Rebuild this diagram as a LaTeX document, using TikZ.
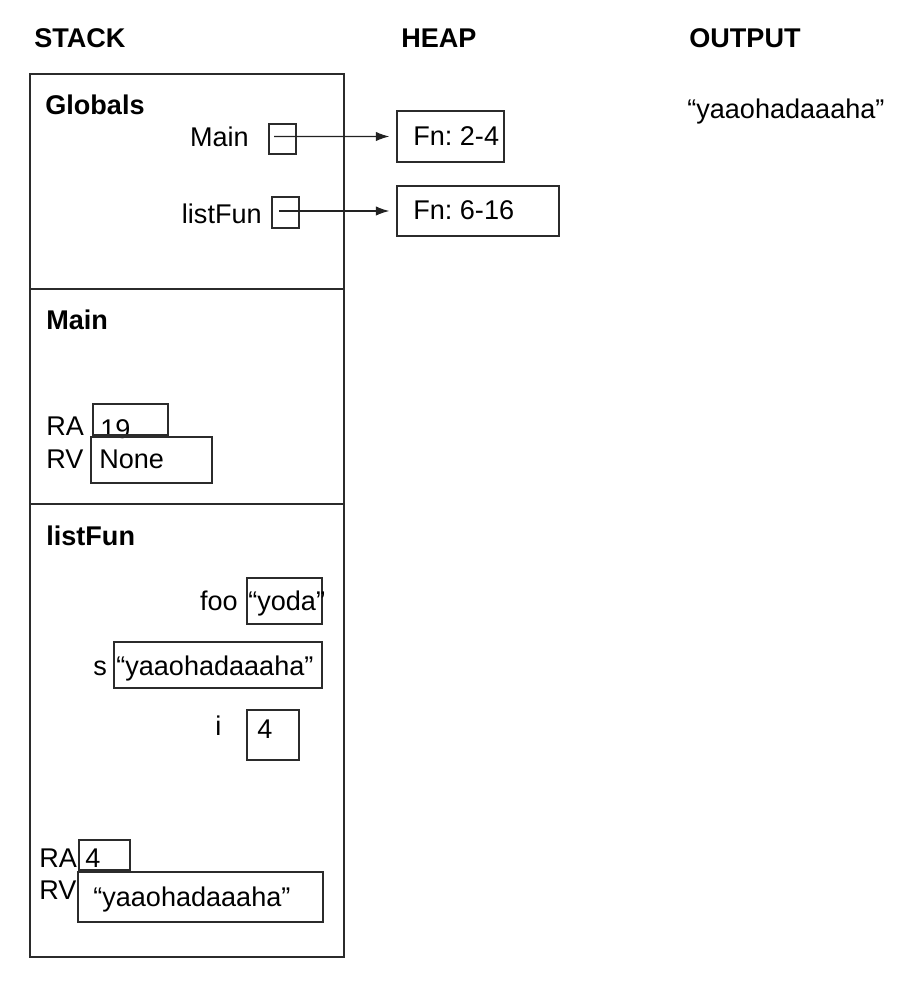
\documentclass[tikz,border=0pt]{standalone}
\usepackage{fontspec}
\setmainfont{Liberation Sans}
\usepackage{xcolor}
\usepackage{tikz}
\usetikzlibrary{arrows.meta, fit, positioning}
\definecolor{Ink}     {HTML}{000000}
\definecolor{Edge}    {HTML}{2B2B2B}
\definecolor{PtrGrey} {HTML}{222222}

\newcommand{\txtsize}{\fontsize{15.4}{18}\selectfont}
\frenchspacing

\begin{document}
\begin{tikzpicture}[x=0.02cm, y=-0.02cm, font=\txtsize,
    frame/.style={draw=Edge, line width=0.9pt, inner sep=0pt},
    cell/.style={draw=Edge, line width=0.85pt, inner sep=0pt},
    lbl/.style={text=Ink, inner sep=0pt},
    hdr/.style={text=Ink, inner sep=0pt, font=\txtsize\bfseries},
    ptr/.style={draw=PtrGrey, line width=0.65pt,
                -{Latex[length=0.27cm, width=0.19cm]}, shorten >=0.14cm}]
  \useasboundingbox (0,0) rectangle (899,989);
  % Column headers
  \node[hdr, anchor=base west] (stackhd) at (34,48) {STACK};
  \node[hdr, anchor=base west] (heaphd) at (401,48) {HEAP};
  \node[hdr, anchor=base west] (outhd) at (689,48) {OUTPUT};
  \node[lbl, anchor=base west] (outtxt) at (687,119) {“yaaohadaaaha”};
  % Stack frames
  \node[frame, fit={(30,74) (344,289)}] (globals) {};
  \node[frame, fit={(30,289) (344,504)}] (mainfr) {};
  \node[frame, fit={(30,504) (344,957)}] (listfr) {};
  % Globals
  \node[hdr, anchor=base west] (globalshd) at (45,115) {Globals};
  \node[lbl, anchor=base east] (mainname) at (249,147) {Main};
  \node[cell, fit={(269,124) (296,154)}] (mainref) {};
  \node[lbl, anchor=base east] (listname) at (262,224) {listFun};
  \node[cell, fit={(272,197) (299,228)}] (listref) {};
  % Heap
  \node[cell, fit={(397,111) (504,162)}] (fnmain) {};
  \node[lbl, anchor=base west] (fnmaintxt) at (413,146) {Fn: 2-4};
  \node[cell, fit={(397,186) (559,236)}] (fnlist) {};
  \node[lbl, anchor=base west] (fnlisttxt) at (413,220) {Fn: 6-16};
  \coordinate (mainptr) at (274,136.5);
  \coordinate (listptr) at (279,211);
  \draw[ptr] (mainptr) -- (fnmain.west);
  \draw[ptr] (listptr) -- (fnlist.west);
  % Main frame
  \node[hdr, anchor=base west] (mainhd) at (46,330) {Main};
  \node[lbl, anchor=base west] (mainra) at (46,435) {RA};
  \node[lbl, anchor=base west] (mainraval) at (100,438) {19};
  \node[cell, fit={(93,404) (168,435)}] (mainrabox) {};
  \node[lbl, anchor=base west] (mainrv) at (46,468) {RV};
  \node[cell, fit={(91,437) (212,483)}] (mainrvbox) {};
  \node[lbl, anchor=base west] (mainrvval) at (99,468) {None};
  % listFun frame
  \node[hdr, anchor=base west] (listhd) at (46,545) {listFun};
  \node[lbl, anchor=base east] (fooname) at (238,610) {foo};
  \node[cell, fit={(247,578) (322,624)}] (foobox) {};
  \node[lbl, anchor=base west] (fooval) at (248,610) {“yoda”};
  \node[lbl, anchor=base west] (sname) at (93,675) {s};
  \node[cell, fit={(114,642) (322,688)}] (sbox) {};
  \node[lbl, anchor=base west] (sval) at (116,675) {“yaaohadaaaha”};
  \node[lbl, anchor=base west] (iname) at (215,735) {i};
  \node[cell, fit={(247,710) (299,760)}] (ibox) {};
  \node[lbl, anchor=base west] (ival) at (257,738) {4};
  \node[lbl, anchor=base west] (listra) at (39,867) {RA};
  \node[cell, fit={(79,840) (130,870)}] (listrabox) {};
  \node[lbl, anchor=base west] (listraval) at (85,867) {4};
  \node[lbl, anchor=base west] (listrv) at (39,899) {RV};
  \node[cell, fit={(78,872) (323,922)}] (listrvbox) {};
  \node[lbl, anchor=base west] (listrvval) at (93,906) {“yaaohadaaaha”};
\end{tikzpicture}
\end{document}
